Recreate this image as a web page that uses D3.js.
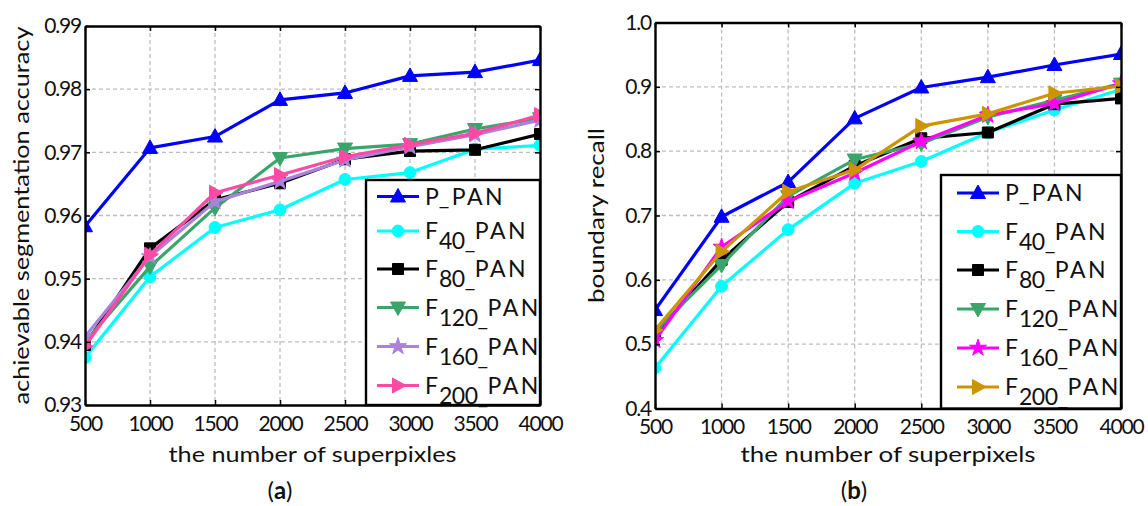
<!DOCTYPE html>
<html>
<head>
<meta charset="utf-8">
<script src="https://cdn.jsdelivr.net/npm/d3@7"></script>
<style>
  html, body { margin: 0; padding: 0; background: #fff; }
  svg { display: block; }
  text { font-family: Lato, "Open Sans", sans-serif; fill: #111; }
</style>
</head>
<body>
<svg id="chart" width="1148" height="506"></svg>
<script>
// Number of superpixels on the x axis
const superpixels = [500, 1000, 1500, 2000, 2500, 3000, 3500, 4000];
const xTicks = [500, 1000, 1500, 2000, 2500, 3000, 3500, 4000];

// Series names (main part, subscript)
const seriesNames = [["P", ""], ["F", "40"], ["F", "80"], ["F", "120"], ["F", "160"], ["F", "200"]];

// (a) achievable segmentation accuracy
const asaTicks = [0.93, 0.94, 0.95, 0.96, 0.97, 0.98, 0.99];
const asaP    = [0.9583, 0.9707, 0.9725, 0.9783, 0.9794, 0.9821, 0.9827, 0.9846];
const asaF40  = [0.9375, 0.9503, 0.9581, 0.9609, 0.9657, 0.9668, 0.9705, 0.9711];
const asaF80  = [0.9395, 0.9548, 0.9625, 0.9651, 0.9689, 0.9702, 0.9704, 0.9729];
const asaF120 = [0.9400, 0.9519, 0.9612, 0.9691, 0.9706, 0.9713, 0.9737, 0.9754];
const asaF160 = [0.9408, 0.9535, 0.9622, 0.9654, 0.9688, 0.9709, 0.9728, 0.9751];
const asaF200 = [0.9393, 0.9538, 0.9636, 0.9664, 0.9693, 0.9712, 0.9730, 0.9759];

// (b) boundary recall
const brTicks = [0.4, 0.5, 0.6, 0.7, 0.8, 0.9, 1.0];
const brP    = [0.553, 0.698, 0.752, 0.851, 0.899, 0.915, 0.934, 0.951];
const brF40  = [0.463, 0.590, 0.678, 0.750, 0.784, 0.829, 0.864, 0.896];
const brF80  = [0.515, 0.631, 0.721, 0.777, 0.820, 0.829, 0.873, 0.882];
const brF120 = [0.520, 0.623, 0.730, 0.787, 0.812, 0.853, 0.879, 0.905];
const brF160 = [0.506, 0.651, 0.722, 0.766, 0.815, 0.856, 0.874, 0.905];
const brF200 = [0.522, 0.644, 0.737, 0.771, 0.839, 0.858, 0.890, 0.901];

const markers = ["triangleUp", "circle", "square", "triangleDown", "star", "triangleRight"];

function markerPath(kind) {
  switch (kind) {
    case "triangleUp": return "M0,-8L7.5,5.5L-7.5,5.5Z";
    case "triangleDown": return "M0,8L7.5,-5.5L-7.5,-5.5Z";
    case "triangleRight": return "M8,0L-5.5,7.5L-5.5,-7.5Z";
    case "square": return "M-5.5,-5.5H5.5V5.5H-5.5Z";
    case "circle": return d3.symbol(d3.symbolCircle, 110)();
    case "star": return d3.symbol(d3.symbolStar, 90)();
  }
}

const svg = d3.select("#chart");

function drawPanel(cfg) {
  const { id, left, top, right, bottom, yDomain, yTicks, yFmt, series, colors,
          yLabel, yLabelX, yLabelLen, xLabel, xLabelLen, legend, caption } = cfg;
  const g = svg.append("g");
  const x = d3.scaleLinear().domain([500, 4000]).range([left, right]);
  const y = d3.scaleLinear().domain(yDomain).range([bottom, top]);

  // grid
  g.append("g").selectAll("line").data(xTicks.slice(1, -1)).join("line")
    .attr("x1", d => x(d)).attr("x2", d => x(d)).attr("y1", top).attr("y2", bottom)
    .attr("stroke", "#bdbdbd").attr("stroke-width", 1.3).attr("stroke-dasharray", "4,3");
  g.append("g").selectAll("line").data(yTicks.slice(1, -1)).join("line")
    .attr("y1", d => y(d)).attr("y2", d => y(d)).attr("x1", left).attr("x2", right)
    .attr("stroke", "#bdbdbd").attr("stroke-width", 1.3).attr("stroke-dasharray", "4,3");

  // clipping to plot area
  g.append("clipPath").attr("id", "clip-" + id).append("rect")
    .attr("x", left).attr("y", top).attr("width", right - left).attr("height", bottom - top);
  const plot = g.append("g").attr("clip-path", `url(#clip-${id})`);

  const line = d3.line().x((d, i) => x(superpixels[i])).y(d => y(d));
  series.forEach((vals, k) => {
    plot.append("path").datum(vals).attr("d", line)
      .attr("fill", "none").attr("stroke", colors[k]).attr("stroke-width", 3.2)
      .attr("stroke-linejoin", "round");
    plot.append("g").selectAll("path").data(vals).join("path")
      .attr("transform", (d, i) => `translate(${x(superpixels[i])},${y(d)})`)
      .attr("d", markerPath(markers[k])).attr("fill", colors[k]).attr("stroke", colors[k]).attr("stroke-width", 1);
  });

  // axes (inward ticks on all four sides)
  const xAxisB = d3.axisBottom(x).tickValues(xTicks).tickSizeInner(-5).tickSizeOuter(0).tickPadding(11).tickFormat(d3.format("d"));
  const xAxisT = d3.axisTop(x).tickValues(xTicks).tickSizeInner(-5).tickSizeOuter(0).tickFormat("");
  const yAxisL = d3.axisLeft(y).tickValues(yTicks).tickSizeInner(-5).tickSizeOuter(0).tickPadding(4).tickFormat(yFmt);
  const yAxisR = d3.axisRight(y).tickValues(yTicks).tickSizeInner(-5).tickSizeOuter(0).tickFormat("");

  const axes = [
    g.append("g").attr("transform", `translate(0,${bottom})`).call(xAxisB),
    g.append("g").attr("transform", `translate(0,${top})`).call(xAxisT),
    g.append("g").attr("transform", `translate(${left},0)`).call(yAxisL),
    g.append("g").attr("transform", `translate(${right},0)`).call(yAxisR)
  ];
  axes.forEach(a => {
    a.select(".domain").attr("stroke", "#000").attr("stroke-width", 2.4);
    a.selectAll(".tick line").attr("stroke", "#000").attr("stroke-width", 1.5);
    a.selectAll("text").attr("font-family", "Lato, sans-serif").attr("font-size", 21)
      .attr("letter-spacing", -1.2).attr("fill", "#111");
  });

  // axis titles
  g.append("text").attr("transform", `translate(${yLabelX},${(top + bottom) / 2}) rotate(-90)`)
    .attr("text-anchor", "middle").attr("font-size", 21)
    .attr("textLength", yLabelLen).attr("lengthAdjust", "spacingAndGlyphs").text(yLabel);
  g.append("text").attr("x", (left + right) / 2).attr("y", 462)
    .attr("text-anchor", "middle").attr("font-size", 21)
    .attr("textLength", xLabelLen).attr("lengthAdjust", "spacingAndGlyphs").text(xLabel);

  // legend
  const lg = g.append("g");
  lg.append("rect").attr("x", legend.x0).attr("y", legend.y0)
    .attr("width", right - legend.x0).attr("height", bottom - legend.y0)
    .attr("fill", "#fff").attr("stroke", "#000").attr("stroke-width", 2.4);
  seriesNames.forEach((nm, k) => {
    const cy = legend.rows[k];
    lg.append("line").attr("x1", legend.lx).attr("x2", legend.lx + 42).attr("y1", cy).attr("y2", cy)
      .attr("stroke", colors[k]).attr("stroke-width", 3.2);
    lg.append("path").attr("transform", `translate(${legend.lx + 21},${cy})`)
      .attr("d", markerPath(markers[k])).attr("fill", colors[k]).attr("stroke", colors[k]);
    const t = lg.append("text").attr("x", legend.tx).attr("y", cy + 8).attr("font-size", 23);
    t.append("tspan").text(nm[0]);
    if (nm[1]) {
      t.append("tspan").attr("dy", 10).attr("dx", 1).attr("letter-spacing", -0.5).text(nm[1] + "_");
      t.append("tspan").attr("dy", -10).attr("letter-spacing", 2.5).text("PAN");
    } else {
      t.append("tspan").attr("letter-spacing", 2.5).text("_PAN");
    }
  });

  // panel caption
  const cap = g.append("text").attr("x", caption).attr("y", 499).attr("text-anchor", "middle")
    .attr("font-family", "Liberation Serif, serif").attr("font-size", 24);
  cap.append("tspan").text("(");
  cap.append("tspan").attr("font-weight", "bold").text(id);
  cap.append("tspan").text(")");
}

drawPanel({
  id: "a", left: 85, top: 26, right: 540, bottom: 405,
  yDomain: [0.93, 0.99], yTicks: asaTicks, yFmt: d3.format(".2f"),
  series: [asaP, asaF40, asaF80, asaF120, asaF160, asaF200],
  colors: ["#0000ff", "#00ffff", "#000000", "#3aa56b", "#a982dc", "#ff4aa5"],
  yLabel: "achievable segmentation accuracy", yLabelX: 29, yLabelLen: 378,
  xLabel: "the number of superpixles", xLabelLen: 288,
  legend: { x0: 366, y0: 180, lx: 377, tx: 425, rows: [196.5, 231, 269, 307.5, 346.5, 385.5] },
  caption: 280
});

drawPanel({
  id: "b", left: 655, top: 22.5, right: 1121, bottom: 408.5,
  yDomain: [0.4, 1.0], yTicks: brTicks, yFmt: d3.format(".1f"),
  series: [brP, brF40, brF80, brF120, brF160, brF200],
  colors: ["#0000ff", "#00ffff", "#000000", "#3aa56b", "#ff00ff", "#cc9400"],
  yLabel: "boundary recall", yLabelX: 604, yLabelLen: 175,
  xLabel: "the number of superpixels", xLabelLen: 295,
  legend: { x0: 941, y0: 175, lx: 957, tx: 1005, rows: [193, 231.5, 270, 309, 348, 387] },
  caption: 854
});
</script>
</body>
</html>
